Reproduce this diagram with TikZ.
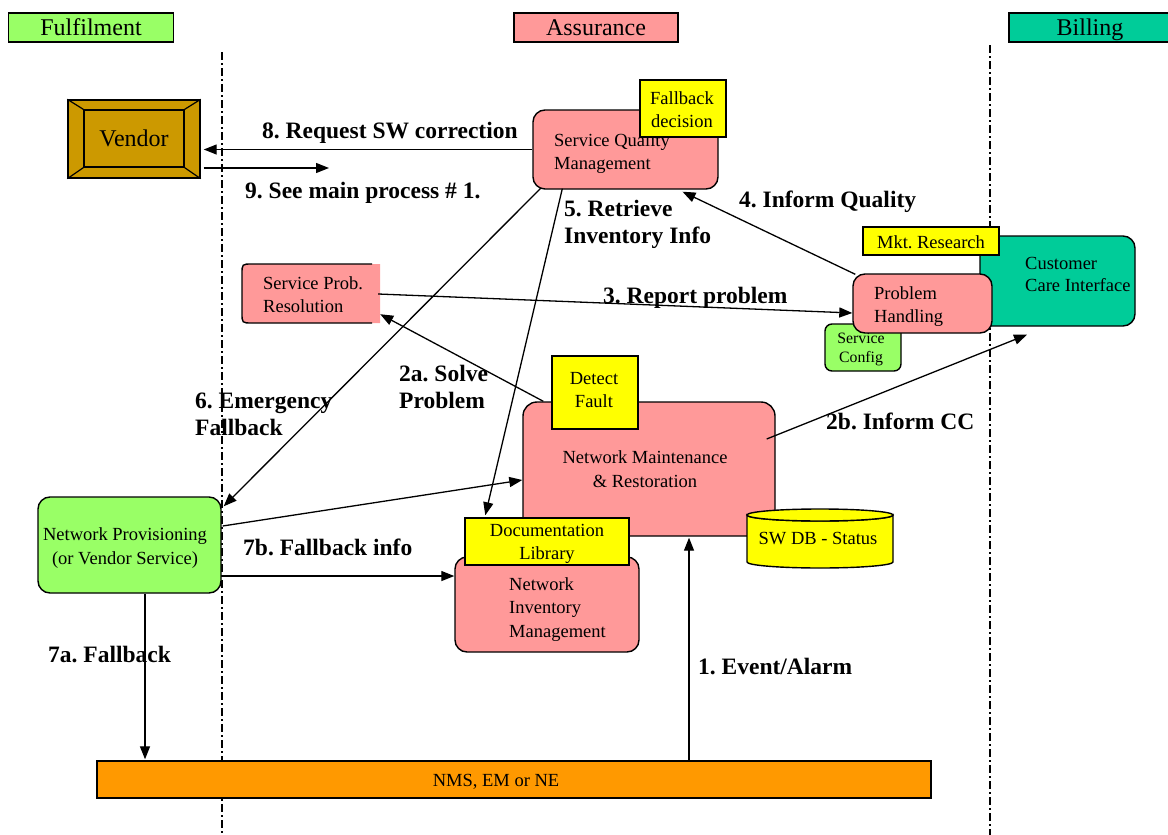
\documentclass[tikz,border=0pt]{standalone}
\usepackage{fontspec}
\setmainfont{Liberation Serif}
\frenchspacing
\usetikzlibrary{arrows.meta,calc}
\definecolor{pinkbox}{HTML}{FF9999}
\definecolor{yel}{HTML}{FFFF00}
\definecolor{grn}{HTML}{99FF66}
\definecolor{tealbox}{HTML}{00CC99}
\definecolor{orng}{HTML}{FF9900}
\definecolor{goldbox}{HTML}{CC9900}
\begin{document}
\begin{tikzpicture}[x=1pt,y=-1pt,
  rbox/.style={draw, line width=1.4pt, rounded corners=12pt, inner sep=0pt},
  sbox/.style={draw, line width=1.4pt, inner sep=0pt},
  btext/.style={inner sep=0pt, align=left, font=\fontsize{18.5}{23.5}\selectfont, execute at begin node={\rule{0pt}{13pt}}},
  ctext/.style={inner sep=0pt, align=center, font=\fontsize{18.5}{23.5}\selectfont, execute at begin node={\rule{0pt}{13pt}}},
  lbl/.style={inner sep=0pt, align=left, anchor=north west, font=\fontsize{23.5}{26.5}\selectfont\bfseries, execute at begin node={\rule{0pt}{17pt}}},
  conn/.style={line width=1.3pt, -{Triangle[length=13pt,width=10pt]}},
  sepline/.style={line width=1.3pt, dash pattern=on 8pt off 3pt on 2pt off 3pt},
  hdr/.style={draw, line width=1.3pt, inner sep=0pt, text height=17pt, text depth=1pt, font=\fontsize{24}{26}\selectfont}
]
\useasboundingbox (0,0) rectangle (1168,835);

% separators
\draw[sepline] (222,52) -- (222,835);
\draw[sepline] (990,45) -- (990,835);

% headers
\node[hdr, fill=grn, minimum width=164.5pt, minimum height=29pt] (hf) at (91,27.5) {Fulfilment};
\node[hdr, fill=pinkbox, minimum width=164pt, minimum height=29pt] (ha) at (596,27.5) {Assurance};
\node[hdr, fill=tealbox, minimum width=162pt, minimum height=29pt] (hb) at (1090,27.5) {Billing};

% vendor
\node[sbox, fill=goldbox, minimum width=132pt, minimum height=78pt] (vendor) at (134,139) {};
\node[sbox, minimum width=100pt, minimum height=57pt, font=\fontsize{24}{26}\selectfont] (vendori) at (134,138.5) {Vendor};
\draw[line width=1.2pt] (vendor.north west) -- (vendori.north west);
\draw[line width=1.2pt] (vendor.north east) -- (vendori.north east);
\draw[line width=1.2pt] (vendor.south west) -- (vendori.south west);
\draw[line width=1.2pt] (vendor.south east) -- (vendori.south east);

% SQM
\node[rbox, fill=pinkbox, minimum width=185pt, minimum height=79pt] (sqm) at (625.5,149.5) {};
\node[btext, anchor=north west] (sqmt) at (554,133) {Service Quality\\Management};
\node[sbox, fill=yel, minimum width=86pt, minimum height=57pt] (fbd) at (683,108.5) {};
\node[ctext, anchor=north] (fbdt) at (682,91) {Fallback\\decision};

% customer care
\node[rbox, fill=tealbox, minimum width=155pt, minimum height=90pt] (cci) at (1057.5,281) {};
\node[btext, anchor=north west, font=\fontsize{18.5}{22}\selectfont] (ccit) at (1025,257) {Customer\\Care Interface};
\node[sbox, fill=yel, minimum width=136pt, minimum height=28pt] (mkt) at (931,241) {};
\node[ctext, anchor=north] (mktt) at (931,235) {Mkt. Research};
\node[draw, line width=1.4pt, rounded corners=7pt, fill=grn, minimum width=76pt, minimum height=47pt, inner sep=0pt] (sc) at (863,347.5) {};
\node[ctext, anchor=north, font=\fontsize{15.8}{19}\selectfont, execute at begin node={\rule{0pt}{11pt}}] (sct) at (861,333) {Service\\Config};
\node[rbox, fill=pinkbox, minimum width=139pt, minimum height=59pt] (ph) at (922.5,303.5) {};
\node[btext, anchor=north west] (pht) at (874,286) {Problem\\Handling};

% service problem resolution
\node[inner sep=0pt, minimum width=138pt, minimum height=59pt] (spr) at (311,293.5) {};
\fill[pinkbox] (380,264) -- (252,264) .. controls (242,264) .. (242,274) -- (242,313) .. controls (242,323) .. (252,323) -- (380,323) -- cycle;
\draw[line width=1.4pt] (372,264) -- (252,264) .. controls (242,264) .. (242,274) -- (242,313) .. controls (242,323) .. (252,323) -- (372,323);
\node[btext, anchor=north west] (sprt) at (263,276) {Service Prob.\\Resolution};

% NMR
\node[rbox, rounded corners=14pt, fill=pinkbox, minimum width=252pt, minimum height=134pt] (nmr) at (649,469) {};
\node[ctext, anchor=north, font=\fontsize{18.5}{24}\selectfont] (nmrt) at (645,450) {Network Maintenance\\\& Restoration};
\node[sbox, fill=yel, minimum width=86pt, minimum height=73pt] (df) at (595,392.5) {};
\node[ctext, anchor=north] (dft) at (594,372) {Detect\\Fault};

% SW DB cylinder
\filldraw[fill=yel, line width=1.4pt] (747,515) -- (747,562) arc[start angle=180, end angle=0, x radius=73, y radius=6] -- (893,515) arc[start angle=0, end angle=180, x radius=73, y radius=6] -- cycle;
\filldraw[fill=yel, line width=1.4pt] (820,515) ellipse [x radius=73, y radius=6];
\node[ctext, anchor=north] (swdb) at (818,531) {SW DB - Status};

% NIM
\node[rbox, fill=pinkbox, minimum width=184pt, minimum height=95pt] (nim) at (547,604.5) {};
\node[btext, anchor=north west] (nimt) at (509,577) {Network\\Inventory\\Management};
\node[sbox, fill=yel, minimum width=164pt, minimum height=47pt] (doc) at (547,541.5) {};
\node[ctext, anchor=north, font=\fontsize{18.5}{23}\selectfont] (doct) at (547,524) {Documentation\\Library};

% network provisioning
\node[rbox, fill=grn, minimum width=183pt, minimum height=96pt] (np) at (129.5,545) {};
\node[ctext, anchor=north, font=\fontsize{18.5}{24}\selectfont] (npt) at (125,527) {Network Provisioning\\(or Vendor Service)};

% NMS bar
\node[sbox, fill=orng, minimum width=834pt, minimum height=37pt] (nms) at (514,779.5) {};
\node[ctext, anchor=north] (nmst) at (496,773) {NMS, EM or NE};

% connectors
\draw[conn] (sqm.west) -- ($(vendor.east |- sqm.west)+(3,0)$);
\coordinate (e9) at (329,168);
\draw[conn] ($(vendor.east |- e9)+(3,0)$) -- (e9);
\draw[conn] ($(sqm.south west)+(30,-1)$) -- ($(doc.north west)+(21,-2)$);
\draw[conn] ($(sqm.south west)+(9,-2)$) -- ($(np.north east)+(2,10)$);
\draw[conn] ($(ph.north west)+(3,1)$) -- ($(sqm.south)+(57,2)$);
\draw[conn] ($(spr.east)+(-2,0.5)$) -- ($(ph.west)+(0,9.5)$);
\draw[conn] ($(nmr.north west)+(21,0)$) -- ($(spr.south east)+(0,-9)$);
\draw[conn] ($(nmr.east)+(-9,-30)$) -- ($(cci.south)+(-30.5,8)$);
\draw[conn] ($(np.east)+(1,-19)$) -- ($(nmr.west)+(0,11)$);
\coordinate (s7b) at ($(np.east)+(0,31)$);
\draw[conn] (s7b) -- (nim.west |- s7b);
\coordinate (s7a) at ($(np.south)+(15.5,0)$);
\draw[conn] (s7a) -- ($(s7a |- nms.north)+(0,-1)$);
\coordinate (s1) at ($(nms.north)+(175,0)$);
\draw[conn] (s1) -- ($(s1 |- nmr.south)+(0,1)$);

% labels
\node[lbl] (l8) at (262,121) {8. Request SW correction};
\node[lbl] (l9) at (245,181) {9. See main process \# 1.};
\node[lbl] (l5) at (564,200) {5. Retrieve\\Inventory Info};
\node[lbl] (l4) at (739,190) {4. Inform Quality};
\node[lbl] (l3) at (603,286) {3. Report problem};
\node[lbl] (l2a) at (399,365) {2a. Solve\\Problem};
\node[lbl] (l6) at (195,393) {6. Emergency\\Fallback};
\node[lbl] (l2b) at (826,412) {2b. Inform CC};
\node[lbl] (l7b) at (243,538) {7b. Fallback info};
\node[lbl] (l7a) at (48,645) {7a. Fallback};
\node[lbl] (l1) at (698,657) {1. Event/Alarm};
\end{tikzpicture}
\end{document}
